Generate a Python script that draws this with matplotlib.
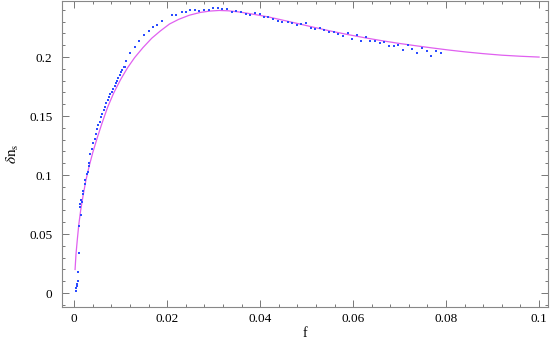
import matplotlib
matplotlib.use("Agg")
import matplotlib.pyplot as plt
from matplotlib.ticker import MultipleLocator

plt.rcParams['font.family'] = ['Liberation Serif', 'DejaVu Serif']
plt.rcParams['mathtext.fontset'] = 'stix'

# simulation points (blue dots)
dot_f = [0.0004, 0.0005, 0.0006, 0.0007, 0.0008, 0.00086, 0.0010, 0.00115, 0.00143,
         0.0012, 0.00136, 0.0016, 0.0015, 0.0019, 0.0020, 0.0024, 0.0023, 0.0027,
         0.0029, 0.0031, 0.0033, 0.0035, 0.0038, 0.0041, 0.0044, 0.0047, 0.0049,
         0.0052, 0.0055, 0.0058, 0.0061, 0.0064, 0.0067, 0.0069, 0.0072, 0.0075,
         0.0078, 0.0081, 0.0084, 0.0087, 0.0090, 0.0092, 0.0095, 0.0098, 0.0101,
         0.0104, 0.0107, 0.0109, 0.0111, 0.0120, 0.0131, 0.0140, 0.0150, 0.0161,
         0.0170, 0.0179, 0.0189, 0.0211, 0.0219, 0.0231, 0.0241, 0.0249, 0.0260,
         0.0269, 0.0279, 0.0289, 0.0299, 0.0309, 0.0319, 0.0329, 0.0339, 0.0349,
         0.0359, 0.0369, 0.0379, 0.0389, 0.0399, 0.0409, 0.0418, 0.0428, 0.0438,
         0.0448, 0.0459, 0.0469, 0.0479, 0.0489, 0.0499, 0.0509, 0.0519, 0.0528,
         0.0538, 0.0548, 0.0558, 0.0568, 0.0578, 0.0588, 0.0598, 0.0608, 0.0618,
         0.0627, 0.0637, 0.0647, 0.0657, 0.0667, 0.0677, 0.0688, 0.0697, 0.0708,
         0.0718, 0.0727, 0.0738, 0.0748, 0.0758, 0.0768, 0.0778, 0.0788]
dot_dn = [0.002, 0.004, 0.006, 0.008, 0.010, 0.0175, 0.034, 0.057, 0.066,
          0.0726, 0.0754, 0.0773, 0.079, 0.084, 0.0867, 0.0926, 0.096, 0.1008,
          0.103, 0.1076, 0.110, 0.118, 0.1217, 0.1268, 0.1307, 0.1347, 0.139,
          0.1423, 0.1454, 0.1488, 0.152, 0.155, 0.158, 0.1607, 0.1635, 0.166,
          0.1683, 0.1705, 0.1728, 0.1753, 0.178, 0.180, 0.1825, 0.1847, 0.187,
          0.189, 0.1914, 0.1914, 0.1965, 0.2035, 0.2087, 0.2133, 0.2188, 0.2222,
          0.2256, 0.2273, 0.2307, 0.2353, 0.2353, 0.2381, 0.2381, 0.2403, 0.2400,
          0.2392, 0.2395, 0.2398, 0.2412, 0.2417, 0.2406, 0.2406, 0.2380, 0.2392,
          0.2380, 0.2363, 0.2355, 0.2375, 0.2362, 0.2341, 0.2336, 0.2319, 0.2307,
          0.2296, 0.2296, 0.2287, 0.2273, 0.2279, 0.2287, 0.2247, 0.2236, 0.2250,
          0.2233, 0.2213, 0.2213, 0.2199, 0.2177, 0.2202, 0.2151, 0.2188, 0.2137,
          0.2166, 0.2133, 0.2138, 0.2116, 0.2130, 0.2095, 0.2095, 0.2104, 0.2059,
          0.2099, 0.2070, 0.2031, 0.2076, 0.2051, 0.2011, 0.2048, 0.2034]

# analytic curve (magenta line)
curve_f = [0.0002, 0.0004, 0.0007, 0.0010, 0.0014, 0.0019, 0.0025, 0.0032, 0.0040,
           0.0050, 0.0060, 0.0072, 0.0085, 0.0100, 0.0115, 0.0130, 0.0148, 0.0167,
           0.0185, 0.0205, 0.0225, 0.0248, 0.0271, 0.0292, 0.0312, 0.0332, 0.0353,
           0.0375, 0.0397, 0.0418, 0.0443, 0.0480, 0.0515, 0.0550, 0.0587, 0.0626,
           0.0660, 0.0697, 0.0733, 0.0769, 0.0805, 0.0841, 0.0880, 0.0920, 0.0960,
           0.1000]
curve_dn = [0.020, 0.033, 0.046, 0.058, 0.070, 0.082, 0.095, 0.107, 0.119,
            0.132, 0.144, 0.1575, 0.1695, 0.181, 0.191, 0.1995, 0.208, 0.216,
            0.222, 0.228, 0.232, 0.2355, 0.2378, 0.239, 0.2395, 0.2392, 0.2383,
            0.237, 0.2355, 0.234, 0.2318, 0.2285, 0.2253, 0.2222, 0.2192, 0.2163,
            0.214, 0.2117, 0.2097, 0.2078, 0.206, 0.2044, 0.2029, 0.2016, 0.2007,
            0.200]

fig = plt.figure(figsize=(5.54, 3.42), dpi=100)
ax = fig.add_axes([0.112, 0.102, 0.877, 0.895])

ax.plot(curve_f, curve_dn, color='#e060f0', lw=0.9, zorder=2)
ax.plot(dot_f, dot_dn, ls='none', marker='s', ms=1.7, mew=0,
        color='#2b4cff', zorder=3)

ax.set_xlim(-0.0026, 0.1019)
ax.set_ylim(-0.0119, 0.2475)

ax.xaxis.set_minor_locator(MultipleLocator(0.004))
ax.yaxis.set_minor_locator(MultipleLocator(0.01))
ax.set_xticks([0, 0.02, 0.04, 0.06, 0.08, 0.1])
ax.set_xticklabels(['0', '0.02', '0.04', '0.06', '0.08', '0.1'])
ax.set_yticks([0, 0.05, 0.1, 0.15, 0.2])
ax.set_yticklabels(['0', '0.05', '0.1', '0.15', '0.2'])

ax.tick_params(which='both', direction='in', top=True, right=True,
               colors='#777777', labelcolor='black', labelsize=9.5, width=0.7)
ax.tick_params(which='major', length=5)
ax.tick_params(which='minor', length=2.5)
ax.tick_params(axis='x', which='major', pad=4)
ax.tick_params(axis='y', which='major', pad=7)
for s in ax.spines.values():
    s.set_color('#888888')
    s.set_linewidth(0.8)

ax.set_xlabel('f', fontsize=10, labelpad=2)
ax.set_ylabel(r'$\delta\mathrm{n}_\mathrm{s}$', fontsize=11, labelpad=6)

fig.savefig('out.png', dpi=100)
